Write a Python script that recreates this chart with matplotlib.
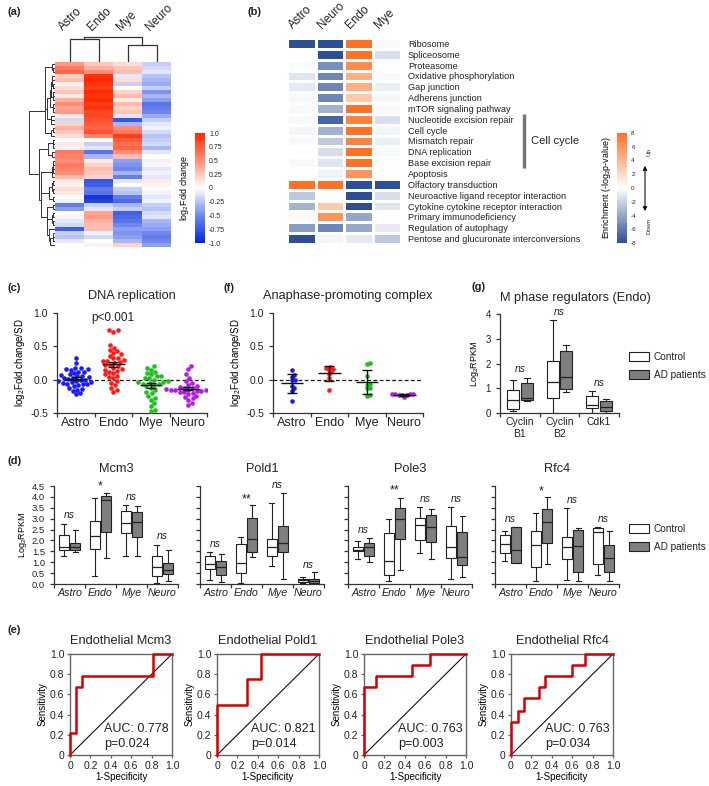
import numpy as np
import matplotlib
matplotlib.use("Agg")
import matplotlib.pyplot as plt
from matplotlib.colors import LinearSegmentedColormap
from matplotlib.patches import Patch

plt.rcParams['font.family'] = ['Liberation Sans', 'DejaVu Sans']
plt.rcParams['mathtext.fontset'] = 'custom'
plt.rcParams['mathtext.rm'] = 'Liberation Sans'
plt.rcParams['mathtext.it'] = 'Liberation Sans:italic'
plt.rcParams['axes.unicode_minus'] = False
plt.rcParams['text.color'] = '#222222'
plt.rcParams['xtick.color'] = '#222222'
plt.rcParams['ytick.color'] = '#222222'

# ---------------- data ----------------
# (a) log2 fold change heatmap, rows top->bottom
a_cols = ['Astro', 'Endo', 'Mye', 'Neuro']
a_astro = [0.45, 0.6, 0.7, 0.2, 0.3, 0.05, 0.15, 0.25, 0.1, 0.35, 0.5, 0.4, 0.45, 0.1, -0.15, 0.2,
           0.35, 0.25, 0.15, 0.0, 0.1, -0.05, 0.6, 0.55, 0.5, 0.6, 0.55, 0.5, 0.3, 0.1, 0.05, 0.15,
           0.1, 0.0, -0.05, -0.55, -0.4, 0.0, 0.05, -0.1, -0.15, -0.7, -0.2, -0.25, -0.1, 0.0]
a_endo = [0.25, 0.35, 0.5, 0.95, 1.0, 0.95, 0.9, 1.0, 0.95, 1.0, 0.9, 0.95, 0.85, 0.85, 0.8, 0.75,
          0.7, 0.8, 0.55, 0.0, -0.2, -0.1, -0.6, -0.3, 0.1, 0.2, 0.3, 0.25, 0.2, -0.75, -0.7, -0.55,
          -0.6, -0.9, -0.85, -0.2, -0.1, 0.4, 0.45, 0.35, 0.3, 0.3, -0.05, -0.15, 0.0, 0.05]
a_mye = [0.15, 0.25, 0.3, -0.1, 0.15, -0.2, 0.0, 0.2, 0.3, 0.1, 0.3, 0.2, 0.25, -0.1, -0.75, -0.3,
         0.5, 0.6, 0.9, 0.75, 0.65, 0.7, 0.5, 0.3, -0.4, -0.45, -0.5, -0.3, -0.55, -0.1, 0.0, -0.2,
         -0.25, -0.55, -0.65, -0.3, -0.2, -0.7, -0.65, -0.6, -0.5, -0.4, -0.45, -0.4, -0.3, 0.2]
a_neuro = [-0.2, -0.15, -0.1, -0.25, -0.3, -0.35, -0.2, -0.45, -0.3, -0.4, -0.6, -0.55, -0.5, -0.35,
           -0.2, -0.1, -0.05, -0.15, -0.25, -0.2, -0.15, -0.3, -0.1, 0.0, -0.05, 0.05, -0.1, -0.05,
           -0.1, 0.1, 0.05, 0.0, -0.05, -0.1, -0.05, -0.2, -0.25, -0.15, -0.1, -0.3, -0.35, -0.4,
           -0.5, -0.55, -0.5, -0.4]
a_col_links = [(0, 1, 0.92), (2, 3, 0.67), (4, 5, 1.0)]

# (b) pathway enrichment
b_cols = ['Astro', 'Neuro', 'Endo', 'Mye']
b_rows = ['Ribosome', 'Spliceosome', 'Proteasome', 'Oxidative phosphorylation', 'Gap junction',
          'Adherens junction', 'mTOR signaling pathway', 'Nucleotide excision repair', 'Cell cycle',
          'Mismatch repair', 'DNA replication', 'Base excision repair', 'Apoptosis',
          'Olfactory transduction', 'Neuroactive ligand receptor interaction',
          'Cytokine cytokine receptor interaction', 'Primary immunodeficiency',
          'Regulation of autophagy', 'Pentose and glucuronate interconversions']
b_astro = [-8, 0, -0.2, -1.2, -1.0, -0.3, -0.3, -0.3, -0.5, -0.3, 0, -0.3, 0, 8, -2.5, -3.5, 0.3, -4.5, -8]
b_neuro = [-8, -8, -5, -5.5, -5.5, -5.5, -3.5, -7, -3.5, -2.5, -1.5, -1.2, -0.6, 8, 0, 3, 6, -5.5, -0.5]
b_endo = [8, 8, 6.5, 4.5, 4.5, 3, 8, 7, 8, 7, 8, 8, 6, -8, -8, -8, -4, -4, -1]
b_mye = [-0.3, -1.5, 0, -0.3, -0.8, -0.5, -0.2, -1.5, -0.5, -0.8, -0.2, 0, 0, -8, -1.5, -1.2, 0, -1, -2.5]

# (c) DNA replication, (f) anaphase-promoting complex
groups = ['Astro', 'Endo', 'Mye', 'Neuro']
c_astro = [0.33, 0.25, 0.18, 0.17, 0.16, 0.15, 0.12, 0.10, 0.08, 0.06, 0.05, 0.04, 0.03, 0.02, 0.01,
           0.0, -0.01, -0.02, -0.03, -0.04, -0.05, -0.06, -0.07, -0.08, -0.10, -0.12, -0.14, -0.15,
           -0.17, -0.20, -0.22, 0.07, -0.02, 0.12, 0.16, -0.06]
c_endo = [0.75, 0.72, 0.74, 0.52, 0.48, 0.45, 0.43, 0.40, 0.38, 0.36, 0.33, 0.30, 0.28, 0.26, 0.25,
          0.22, 0.20, 0.18, 0.16, 0.15, 0.13, 0.12, 0.10, 0.08, 0.06, 0.04, 0.02, -0.02, -0.05, -0.08,
          -0.12, -0.15, -0.18, 0.32, 0.22, 0.28]
c_mye = [0.20, 0.18, 0.15, 0.12, 0.10, 0.08, 0.05, 0.02, 0.0, -0.02, -0.04, -0.05, -0.06, -0.08,
         -0.10, -0.12, -0.15, -0.18, -0.20, -0.24, -0.28, -0.30, -0.35, -0.40, -0.45, -0.47, 0.03,
         -0.03, -0.07, 0.05]
c_neuro = [0.21, 0.16, 0.08, 0.03, -0.02, -0.05, -0.08, -0.10, -0.11, -0.12, -0.13, -0.14, -0.15,
           -0.16, -0.17, -0.18, -0.19, -0.20, -0.22, -0.24, -0.26, -0.28, -0.30, -0.35, -0.38, -0.13,
           -0.15, -0.17, -0.16, -0.14]
f_astro = [0.147, 0.07, 0.045, 0.0, -0.01, -0.09, -0.13, -0.17, -0.32]
f_endo = [0.19, 0.18, 0.15, 0.16, 0.12, 0.08, 0.03, -0.15]
f_mye = [0.25, 0.24, 0.05, -0.06, -0.08, -0.12, -0.13, -0.23, -0.24]
f_neuro = [-0.21, -0.215, -0.22, -0.22, -0.225, -0.23, -0.235, -0.26]
dot_colors = ['#1a1aff', '#ff1a1a', '#1fbf1f', '#b31ae6']

# (g) M phase regulators: [whislo, q1, med, q3, whishi]
g_names = ['Cyclin\nB1', 'Cyclin\nB2', 'Cdk1']
g_ctrl = [[0.1, 0.18, 0.52, 0.93, 1.33], [0.0, 0.62, 1.25, 2.1, 3.75], [0.0, 0.22, 0.34, 0.7, 0.88]]
g_ad = [[0.48, 0.52, 0.6, 1.22, 1.42], [0.85, 0.95, 1.47, 2.52, 2.74], [0.02, 0.1, 0.24, 0.47, 0.55]]
g_ns_y = [1.77, 4.1, 1.2]

# (d) replication genes: [whislo, q1, med, q3, whishi] for Astro, Endo, Mye, Neuro
genes = ['Mcm3', 'Pold1', 'Pole3', 'Rfc4']
mcm3_ctrl = [[1.28, 1.56, 1.72, 2.25, 2.75], [0.37, 1.59, 2.2, 2.9, 3.95], [1.3, 2.35, 2.8, 3.35, 3.62], [0.05, 0.38, 0.8, 1.28, 1.8]]
mcm3_ad = [[1.45, 1.56, 1.72, 1.88, 2.48], [1.18, 2.38, 3.85, 4.03, 4.17], [1.3, 2.18, 2.83, 3.3, 3.58], [0.12, 0.45, 0.62, 0.98, 1.56]]
pold1_ctrl = [[0.18, 0.68, 0.92, 1.27, 1.48], [0.05, 0.52, 0.97, 1.85, 2.18], [0.83, 1.3, 1.72, 2.07, 3.7], [0.03, 0.1, 0.18, 0.24, 0.32]]
pold1_ad = [[0.1, 0.42, 0.8, 1.05, 1.37], [1.22, 1.45, 2.07, 3.05, 3.65], [0.25, 1.48, 1.87, 2.65, 4.2], [0.0, 0.06, 0.14, 0.22, 0.55]]
pole3_ctrl = [[1.15, 1.5, 1.58, 1.68, 1.97], [0.12, 0.42, 1.05, 2.35, 2.97], [1.43, 2.0, 2.7, 3.05, 3.55], [0.25, 1.2, 1.7, 2.65, 3.52]]
pole3_ad = [[1.02, 1.3, 1.68, 1.9, 2.12], [0.62, 2.06, 3.0, 3.5, 3.95], [1.14, 1.94, 2.6, 3.15, 3.45], [0.3, 0.85, 1.22, 2.4, 3.12]]
rfc4_ctrl = [[1.04, 1.44, 1.82, 2.25, 2.45], [0.12, 0.78, 1.8, 2.42, 3.25], [0.18, 1.15, 1.7, 2.17, 3.48], [0.4, 0.93, 2.4, 2.55, 2.62]]
rfc4_ad = [[0.96, 0.98, 1.58, 2.6, 2.62], [0.9, 1.88, 2.85, 3.46, 3.98], [0.15, 0.55, 1.73, 2.5, 2.57], [0.12, 0.55, 1.2, 1.8, 2.43]]
d_sig = [['ns', '*', 'ns', 'ns'], ['ns', '**', 'ns', 'ns'], ['ns', '**', 'ns', 'ns'], ['ns', '*', 'ns', 'ns']]
d_sig_y = [[3.15, 4.6, 4.0, 2.2], [1.83, 4.0, 4.55, 0.87], [2.5, 4.4, 3.9, 3.9], [3.0, 4.35, 3.85, 3.0]]

# (e) ROC curves (corner points, vertical step first)
roc_fpr = [[0, 0.06, 0.12, 0.81, 1], [0, 0.29, 0.43, 1], [0, 0.12, 0.47, 0.65, 1],
           [0, 0.07, 0.13, 0.27, 0.33, 0.6, 0.73, 1]]
roc_tpr = [[0, 0.22, 0.67, 0.78, 1], [0, 0.5, 0.75, 1], [0, 0.67, 0.78, 0.89, 1],
           [0, 0.33, 0.44, 0.56, 0.67, 0.78, 0.89, 1]]
roc_auc = ['0.778', '0.821', '0.763', '0.763']
roc_p = ['0.024', '0.014', '0.003', '0.034']

# ---------------- helpers ----------------
W, H = 709, 786
fig = plt.figure(figsize=(W / 100, H / 100), dpi=100)


def add_ax(x0, y0, x1, y1):
    return fig.add_axes([x0 / W, 1 - y1 / H, (x1 - x0) / W, (y1 - y0) / H])


def panel_label(x, y, s):
    fig.text(x / W, 1 - y / H, s, fontsize=8, fontweight='bold', va='center', ha='left')


def prism(ax):
    for s in ['top', 'right']:
        ax.spines[s].set_visible(False)
    for s in ['left', 'bottom']:
        ax.spines[s].set_color('#333333')
        ax.spines[s].set_linewidth(0.9)
    ax.tick_params(direction='out', length=3, width=0.9, color='#333333')


def cat_axis(ax, labels, fs, italic=False):
    n = len(labels)
    ax.set_xlim(-0.5, n - 0.5)
    ax.set_xticks(np.arange(n + 1) - 0.5)
    ax.set_xticklabels([])
    ax.set_xticks(np.arange(n), labels, minor=True, fontsize=fs,
                  style='italic' if italic else 'normal')
    ax.tick_params(axis='x', which='minor', length=0, pad=3)


def adjacent_links(rows):
    # agglomerative clustering that only merges neighbouring clusters (keeps row order)
    groups = [(i, [i]) for i in range(len(rows))]
    hts = [0.0] * len(rows)
    links = []
    nid = len(rows)
    while len(groups) > 1:
        best, bk = None, 0
        for k in range(len(groups) - 1):
            ma, mb = groups[k][1], groups[k + 1][1]
            d = np.linalg.norm(rows[ma].mean(0) - rows[mb].mean(0))
            d *= np.sqrt(len(ma) * len(mb) / (len(ma) + len(mb)))
            if best is None or d < best:
                best, bk = d, k
        a, b = groups[bk], groups[bk + 1]
        h = max(best, hts[a[0]], hts[b[0]])
        links.append((a[0], b[0], h))
        hts.append(h)
        groups[bk:bk + 2] = [(nid, a[1] + b[1])]
        nid += 1
    return links


def draw_dendro(ax, links, leaf_pos, orient):
    pos = list(leaf_pos)
    hts = [0.0] * len(leaf_pos)
    for a, b, h in links:
        xs = [pos[a], pos[a], pos[b], pos[b]]
        ys = [hts[a], h, h, hts[b]]
        if orient == 'top':
            ax.plot(xs, ys, color='#333333', lw=0.9, clip_on=False)
        else:
            ax.plot(ys, xs, color='#333333', lw=0.7, clip_on=False)
        pos.append((pos[a] + pos[b]) / 2)
        hts.append(h)
    return max(hts)


def swarm(vals, d_px, sx, sy):
    vals = np.asarray(vals, float)
    xs = np.zeros(len(vals))
    placed = []
    for i in np.argsort(vals):
        y = vals[i] * sy
        near = [(px, py) for px, py in placed if abs(py - y) < d_px]
        cands = [0.0]
        for px, py in near:
            dx = np.sqrt(d_px ** 2 - (py - y) ** 2)
            cands += [px + dx, px - dx]
        cands.sort(key=abs)
        for c in cands:
            if all((c - px) ** 2 + (y - py) ** 2 >= d_px ** 2 - 1e-6 for px, py in near):
                xs[i] = c
                break
        placed.append((xs[i], y))
    return xs / sx


def dot_panel(ax, data, title, use_sem, gap, pnote=None):
    for i, vals in enumerate(data):
        v = np.asarray(vals)
        ox = swarm(v, gap, 37.5, 66.7)
        ax.scatter(i + ox, v, s=11, color=dot_colors[i], lw=0, zorder=3)
        m = v.mean()
        e = v.std(ddof=1) / np.sqrt(len(v)) if use_sem else v.std(ddof=1)
        ax.hlines(m, i - 0.3, i + 0.3, color='#111111', lw=1.0, zorder=4)
        ax.errorbar(i, m, yerr=e, color='#111111', lw=1.0, capsize=3.5, capthick=1.0, zorder=4)
    ax.axhline(0, color='#111111', lw=0.9, ls=(0, (3, 2)), zorder=1)
    ax.set_ylim(-0.5, 1.0)
    ax.set_yticks([-0.5, 0, 0.5, 1.0], ['-0.5', '0.0', '0.5', '1.0'], fontsize=7.5)
    ax.set_ylabel('log$_2$Fold change/SD', fontsize=7, labelpad=2)
    prism(ax)
    cat_axis(ax, groups, 9)
    ax.set_title(title, fontsize=9.2, pad=10)
    if pnote:
        ax.text(1, 0.93, pnote, ha='center', va='center', fontsize=8.5)


def draw_boxes(ax, ctrl, ad, off, width):
    n = len(ctrl)
    for vals, dx, fc in ((ctrl, -off, 'white'), (ad, off, '#7f7f7f')):
        stats = [dict(whislo=v[0], q1=v[1], med=v[2], q3=v[3], whishi=v[4], fliers=[]) for v in vals]
        ax.bxp(stats, positions=np.arange(n) + dx, widths=width, patch_artist=True,
               showfliers=False, manage_ticks=False, capwidths=width * 0.5,
               boxprops=dict(facecolor=fc, edgecolor='#222222', lw=0.8),
               medianprops=dict(color='#222222', lw=0.9),
               whiskerprops=dict(color='#222222', lw=0.8),
               capprops=dict(color='#222222', lw=0.8))


legend_handles = [Patch(facecolor='white', edgecolor='#222222', lw=0.8),
                  Patch(facecolor='#7f7f7f', edgecolor='#222222', lw=0.8)]


def add_legend(ytop):
    fig.legend(legend_handles, ['Control', 'AD patients'], loc='upper left',
               bbox_to_anchor=(629 / W, 1 - ytop / H), frameon=False, fontsize=7.2,
               handlelength=2.0, handleheight=1.0, handletextpad=0.5, labelspacing=0.75,
               borderpad=0, borderaxespad=0)


# ---------------- (a) ----------------
panel_label(7, 12, '(a)')
a_mat = np.column_stack([a_astro, a_endo, a_mye, a_neuro])
cmap_a = LinearSegmentedColormap.from_list('fc', ['#0026d9', '#7088ee', '#ffffff', '#ff8f78', '#ff2a00'])
ax_a = add_ax(55, 62, 171, 247)
im_a = ax_a.imshow(a_mat, cmap=cmap_a, vmin=-1, vmax=1, aspect='auto', interpolation='nearest',
                   extent=(0, 4, len(a_astro), 0))
ax_a.axis('off')

ax_at = add_ax(55, 37, 171, 61)
draw_dendro(ax_at, a_col_links, [0.5, 1.5, 2.5, 3.5], 'top')
ax_at.set_xlim(0, 4)
ax_at.set_ylim(0, 1.0)
for s in ax_at.spines.values():
    s.set_visible(False)
ax_at.set_yticks([])
ax_at.xaxis.tick_top()
ax_at.set_xticks([0.35, 1.35, 2.35, 3.35], a_cols, rotation=45, ha='left', rotation_mode='anchor',
                 fontsize=8.5)
ax_at.tick_params(axis='x', length=0, pad=3)

ax_al = add_ax(28, 62, 54, 247)
top_h = draw_dendro(ax_al, adjacent_links(a_mat), np.arange(len(a_astro)) + 0.5, 'left')
ax_al.set_xlim(top_h * 1.02, 0)
ax_al.set_ylim(len(a_astro), 0)
ax_al.axis('off')

cax_a = add_ax(195, 133, 205, 243)
cb_a = fig.colorbar(im_a, cax=cax_a)
cb_a.outline.set_visible(False)
cb_a.set_ticks([1, 0.75, 0.5, 0.25, 0, -0.25, -0.5, -0.75, -1],
               labels=['1.0', '0.75', '0.5', '0.25', '0', '-0.25', '-0.5', '-0.75', '-1.0'])
cax_a.tick_params(length=0, labelsize=5, pad=3)
cb_a.set_label('log$_2$Fold change', fontsize=6.4, labelpad=3)
cax_a.yaxis.set_label_position('left')

# ---------------- (b) ----------------
panel_label(248, 12, '(b)')
b_mat = np.column_stack([b_astro, b_neuro, b_endo, b_mye])
cmap_b = LinearSegmentedColormap.from_list('en', ['#2c4f95', '#ffffff', '#ff7126'])
ax_b = add_ax(287, 38, 401, 244)
mesh = ax_b.pcolormesh(np.arange(5), np.arange(len(b_rows) + 1), b_mat, cmap=cmap_b, vmin=-8, vmax=8,
                       edgecolor='white', lw=0.8)
ax_b.set_xlim(0, 4)
ax_b.set_ylim(len(b_rows), 0)
for s in ax_b.spines.values():
    s.set_visible(False)
ax_b.yaxis.tick_right()
ax_b.set_yticks(np.arange(len(b_rows)) + 0.5, b_rows, fontsize=6.6)
ax_b.xaxis.tick_top()
ax_b.set_xticks([0.3, 1.3, 2.3, 3.3], b_cols, rotation=45, ha='left', rotation_mode='anchor', fontsize=8.5)
ax_b.tick_params(length=0, pad=5)
ax_b.plot([8.3, 8.3], [7, 12], color='#777777', lw=2.5, clip_on=False, solid_capstyle='butt')
ax_b.text(8.55, 9.5, 'Cell cycle', fontsize=8, va='center', ha='left')

cax_b = add_ax(617, 133, 627, 243)
cb_b = fig.colorbar(mesh, cax=cax_b)
cb_b.outline.set_visible(False)
cb_b.set_ticks(np.arange(-8, 9, 2))
cax_b.tick_params(length=0, labelsize=4.5, pad=3)
cb_b.set_label('Enrichment (-log$_2$p-value)', fontsize=6.4, labelpad=3)
cax_b.yaxis.set_label_position('left')
plt.annotate('', xy=(645 / W, 1 - 163 / H), xytext=(645 / W, 1 - 214 / H), xycoords='figure fraction',
             arrowprops=dict(arrowstyle='<|-|>', color='#111111', lw=0.8, mutation_scale=6))
fig.text(649 / W, 1 - 152 / H, 'Up', fontsize=4.5, rotation=90, ha='center', va='center')
fig.text(649 / W, 1 - 226 / H, 'Down', fontsize=4.5, rotation=90, ha='center', va='center')

# ---------------- (c) and (f) ----------------
panel_label(7, 288, '(c)')
ax_c = add_ax(57, 313, 207, 413)
dot_panel(ax_c, [c_astro, c_endo, c_mye, c_neuro], 'DNA replication', True, 4.6, 'p<0.001')

panel_label(223, 288, '(f)')
ax_f = add_ax(273, 313, 423, 413)
dot_panel(ax_f, [f_astro, f_endo, f_mye, f_neuro], 'Anaphase-promoting complex', False, 3.2)

# ---------------- (g) ----------------
panel_label(472, 287, '(g)')
ax_g = add_ax(500, 314, 619, 413)
draw_boxes(ax_g, g_ctrl, g_ad, 0.17, 0.3)
ax_g.set_ylim(0, 4)
ax_g.set_yticks([0, 1, 2, 3, 4], ['0', '1', '2', '3', '4'], fontsize=7)
ax_g.set_ylabel('Log$_2$RPKM', fontsize=6.5, labelpad=3)
prism(ax_g)
cat_axis(ax_g, g_names, 7.5)
for i, y in enumerate(g_ns_y):
    ax_g.text(i, y, 'ns', style='italic', fontsize=7.5, ha='center', va='center', clip_on=False)
ax_g.set_title('M phase regulators (Endo)', fontsize=9.2, pad=9, loc='left')
add_legend(352)

# ---------------- (d) ----------------
panel_label(7, 461, '(d)')
d_ctrl = [mcm3_ctrl, pold1_ctrl, pole3_ctrl, rfc4_ctrl]
d_ad = [mcm3_ad, pold1_ad, pole3_ad, rfc4_ad]
for k, x0 in enumerate([54, 200, 348, 495]):
    ax = add_ax(x0, 486, x0 + 124, 584)
    draw_boxes(ax, d_ctrl[k], d_ad[k], 0.18, 0.32)
    ax.set_ylim(0, 4.5)
    yt = np.arange(0, 4.51, 0.5)
    ax.set_yticks(yt, ['%.1f' % v for v in yt] if k == 0 else [], fontsize=6.8)
    if k == 0:
        ax.set_ylabel('Log$_2$RPKM', fontsize=6.5, labelpad=2)
    prism(ax)
    cat_axis(ax, groups, 7.7, italic=True)
    for i, (s, y) in enumerate(zip(d_sig[k], d_sig_y[k])):
        if s == 'ns':
            ax.text(i, y, s, style='italic', fontsize=7.5, ha='center', va='center', clip_on=False)
        else:
            ax.text(i, y - 0.1, s, fontsize=9, ha='center', va='center', clip_on=False)
    ax.set_title(genes[k], fontsize=9.2, pad=10)
add_legend(524)

# ---------------- (e) ----------------
panel_label(7, 630, '(e)')
ticks = [0, 0.2, 0.4, 0.6, 0.8, 1.0]
tlabels = ['0', '0.2', '0.4', '0.6', '0.8', '1.0']
for k, x0 in enumerate([70, 217, 364, 511]):
    ax = add_ax(x0, 654, x0 + 102, 755)
    ax.plot([0, 1], [0, 1], color='#111111', lw=0.8)
    ax.plot(roc_fpr[k], roc_tpr[k], drawstyle='steps-pre', color='#d40000', lw=1.8, clip_on=False,
            zorder=3)
    ax.set_xlim(0, 1)
    ax.set_ylim(0, 1)
    ax.set_xticks(ticks, tlabels, fontsize=7.5)
    ax.set_yticks(ticks, tlabels, fontsize=7.5)
    for s in ax.spines.values():
        s.set_color('#666666')
        s.set_linewidth(1.0)
    ax.tick_params(direction='out', length=2.5, width=0.9, color='#666666', pad=1.5)
    ax.set_xlabel('1-Specificity', fontsize=7, labelpad=1)
    ax.set_ylabel('Sensitivity', fontsize=7, labelpad=2)
    ax.text(0.33, 0.26, 'AUC: ' + roc_auc[k], fontsize=9, va='center', ha='left')
    ax.text(0.33, 0.11, 'p=' + roc_p[k], fontsize=9, va='center', ha='left')
    ax.set_title('Endothelial ' + genes[k], fontsize=9.2, pad=7)

fig.savefig('out.png', dpi=100)
